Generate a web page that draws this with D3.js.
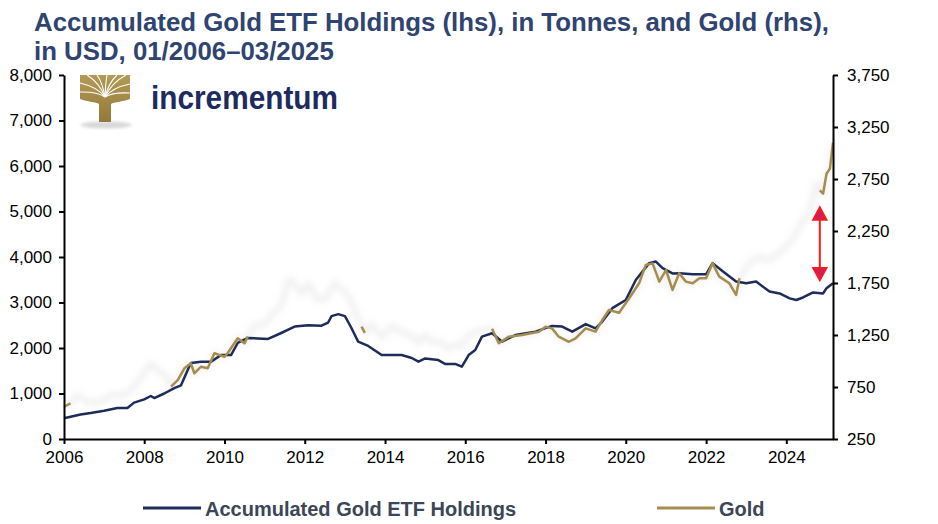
<!DOCTYPE html>
<html>
<head>
<meta charset="utf-8">
<script src="https://cdn.jsdelivr.net/npm/d3@7"></script>
<style>
  body { margin: 0; background: #fff; }
  svg { display: block; font-family: "Liberation Sans", Arial, sans-serif; }
</style>
</head>
<body>
<div id="chart"></div>
<script>
// accumulated gold ETF holdings, tonnes (lhs)
const etfDates = ["2006-01","2006-06","2006-09","2007-01","2007-05","2007-08","2007-10","2008-01","2008-03","2008-04","2008-07","2008-10","2008-12","2009-02","2009-03","2009-06","2009-09","2009-12","2010-03","2010-05","2010-08","2010-11","2011-02","2011-06","2011-10","2012-02","2012-06","2012-08","2012-09","2012-11","2013-01","2013-03","2013-05","2013-08","2013-12","2014-06","2014-09","2014-11","2015-01","2015-05","2015-07","2015-10","2015-12","2016-02","2016-04","2016-06","2016-09","2016-12","2017-04","2017-10","2018-03","2018-06","2018-09","2019-01","2019-04","2019-06","2019-09","2020-01","2020-04","2020-08","2020-10","2020-12","2021-03","2021-05","2021-09","2022-01","2022-03","2022-06","2022-10","2023-01","2023-04","2023-08","2023-11","2024-02","2024-04","2024-06","2024-09","2024-12","2025-01","2025-03"];
const etfValues = [455,540,570,620,680,680,800,870,945,900,1000,1120,1180,1520,1670,1700,1700,1845,1845,2110,2220,2210,2200,2330,2470,2500,2490,2560,2700,2745,2700,2440,2140,2045,1845,1845,1780,1700,1770,1735,1650,1650,1590,1845,1955,2250,2325,2140,2285,2360,2485,2470,2360,2525,2430,2580,2875,3055,3495,3865,3900,3755,3640,3645,3620,3620,3865,3685,3460,3425,3460,3240,3200,3090,3055,3110,3220,3200,3315,3425];

// gold price, USD (rhs)
const goldDates = ["2006-01","2006-03","2006-05","2006-07","2006-10","2007-01","2007-04","2007-07","2007-10","2008-01","2008-03","2008-06","2008-08","2008-09","2008-11","2009-01","2009-03","2009-04","2009-06","2009-08","2009-10","2010-01","2010-02","2010-05","2010-07","2010-08","2010-10","2011-01","2011-04","2011-06","2011-08","2011-09","2011-12","2012-02","2012-05","2012-07","2012-10","2012-12","2013-02","2013-04","2013-06","2013-07","2013-09","2013-12","2014-03","2014-06","2014-09","2014-11","2015-01","2015-03","2015-06","2015-08","2015-10","2015-12","2016-02","2016-04","2016-07","2016-09","2016-11","2017-02","2017-06","2017-11","2018-01","2018-03","2018-05","2018-08","2018-10","2019-01","2019-04","2019-06","2019-08","2019-11","2020-02","2020-05","2020-07","2020-09","2020-11","2021-01","2021-03","2021-05","2021-07","2021-09","2021-11","2022-01","2022-03","2022-05","2022-08","2022-10","2022-11","2023-02","2023-05","2023-08","2023-12","2024-03","2024-05","2024-08","2024-10","2024-11","2024-12","2025-01","2025-02","2025-03"];
const goldValues = [560,593,675,630,590,630,680,665,755,890,970,890,840,753,817,930,978,882,945,930,1074,1041,1080,1218,1170,1234,1340,1355,1475,1530,1755,1780,1650,1740,1590,1590,1750,1690,1630,1480,1330,1270,1350,1225,1335,1280,1240,1175,1250,1180,1180,1115,1160,1137,1250,1280,1298,1310,1170,1234,1250,1282,1330,1314,1234,1185,1218,1314,1282,1394,1490,1464,1603,1747,1923,1939,1763,1875,1683,1843,1763,1747,1795,1795,1939,1811,1747,1635,1795,1950,2000,1970,2067,2180,2290,2450,2700,2640,2610,2800,2850,3100];

// parts of the gold line drawn in full colour (rest is washed out)
const goldShown = [["2006-01","2006-03"],["2008-09","2010-08"],["2013-06","2013-07"],["2016-09","2022-11"],["2024-11","2025-03"]];

const leftTicks = [0,1000,2000,3000,4000,5000,6000,7000,8000];
const rightTicks = [250,750,1250,1750,2250,2750,3250,3750];
const yearTicks = [2006,2008,2010,2012,2014,2016,2018,2020,2022,2024];

// red double arrow (in tonnes, lhs)
const gapArrow = { date: "2024-11", from: 3480, to: 5100 };

const titleLines = ["Accumulated Gold ETF Holdings (lhs), in Tonnes, and Gold (rhs),", "in USD, 01/2006\u201303/2025"];
const legendItems = [
  { label: "Accumulated Gold ETF Holdings", color: "#1e2c5a", x: 143 },
  { label: "Gold", color: "#a58d4e", x: 657 }
];

const width = 938, height = 524;
const margin = { top: 75, right: 105, bottom: 85, left: 64 };
const parse = d3.timeParse("%Y-%m");
const navy = "#1e2c5a", gold = "#a58d4e";

const svg = d3.select("#chart").append("svg")
  .attr("width", width)
  .attr("height", height);

const defs = svg.append("defs");
defs.append("filter").attr("id", "wash")
  .attr("x", "-20%").attr("y", "-20%").attr("width", "140%").attr("height", "140%")
  .append("feGaussianBlur").attr("stdDeviation", 3);
defs.append("filter").attr("id", "soft")
  .append("feGaussianBlur").attr("stdDeviation", 1.5);
const grad = defs.append("linearGradient").attr("id", "treeGold")
  .attr("x1", 0).attr("y1", 0).attr("x2", 0).attr("y2", 1);
grad.append("stop").attr("offset", "0%").attr("stop-color", "#b39a55");
grad.append("stop").attr("offset", "100%").attr("stop-color", "#94793a");

const x = d3.scaleTime()
  .domain([parse("2006-01"), parse("2025-03")])
  .range([margin.left, width - margin.right]);
const yL = d3.scaleLinear().domain([0, 8000]).range([height - margin.bottom, margin.top]);
const yR = d3.scaleLinear().domain([250, 3750]).range([height - margin.bottom, margin.top]);

const etf = etfDates.map((d, i) => ({ date: parse(d), value: etfValues[i] }));
const goldData = goldDates.map((d, i) => ({ date: parse(d), value: goldValues[i] }));

// title
svg.append("g").selectAll("text").data(titleLines).enter().append("text")
  .attr("x", 34)
  .attr("y", (d, i) => 31 + i * 29)
  .attr("font-size", "25.8px")
  .attr("font-weight", "bold")
  .attr("fill", "#2f4470")
  .text(d => d);

// logo
const logo = svg.append("g").attr("transform", "translate(80,75)");
logo.append("ellipse").attr("cx", 26).attr("cy", 50).attr("rx", 26).attr("ry", 3.5)
  .attr("fill", "#d8d8d8").attr("filter", "url(#soft)");
logo.append("path")
  .attr("d", "M0,0 L50,0 L50,24 C42,27 34,27 31,29 L31,47 L19,47 L19,29 C16,27 8,27 0,24 Z")
  .attr("fill", "url(#treeGold)");
const branchEnds = [[0,8],[0,17],[7,0],[17,0],[27,0],[37,0],[46,0],[50,9],[50,18]];
logo.selectAll("path.branch").data(branchEnds).enter().append("path")
  .attr("class", "branch")
  .attr("d", d => `M25,22 Q${25 + (d[0] - 25) * 0.3},${8 + d[1] * 0.5} ${d[0]},${d[1]}`)
  .attr("fill", "none")
  .attr("stroke", "#fff")
  .attr("stroke-width", 1.1);
svg.append("text")
  .attr("x", 151).attr("y", 109)
  .attr("font-size", "33px")
  .attr("font-weight", "bold")
  .attr("textLength", 187)
  .attr("lengthAdjust", "spacingAndGlyphs")
  .attr("fill", "#1d2b5e")
  .text("incrementum");

// lines
const lineL = d3.line().x(d => x(d.date)).y(d => yL(d.value));
const lineR = d3.line().x(d => x(d.date)).y(d => yR(d.value));

svg.append("path")
  .datum(goldData)
  .attr("fill", "none")
  .attr("stroke", "#a8a8a8")
  .attr("stroke-width", 5)
  .attr("stroke-opacity", 0.2)
  .attr("filter", "url(#wash)")
  .attr("d", lineR);

svg.append("path")
  .datum(etf)
  .attr("fill", "none")
  .attr("stroke", navy)
  .attr("stroke-width", 2.5)
  .attr("stroke-linejoin", "round")
  .attr("d", lineL);

goldShown.forEach(([a, b]) => {
  const seg = goldData.filter(d => d.date >= parse(a) && d.date <= parse(b));
  svg.append("path")
    .datum(seg)
    .attr("fill", "none")
    .attr("stroke", gold)
    .attr("stroke-width", 2.5)
    .attr("stroke-linejoin", "round")
    .attr("d", lineR);
});

// red arrow
const ax = x(parse(gapArrow.date));
const aTop = yL(gapArrow.to), aBot = yL(gapArrow.from);
svg.append("line")
  .attr("x1", ax).attr("x2", ax)
  .attr("y1", aTop + 10).attr("y2", aBot - 10)
  .attr("stroke", "#ff1a1a").attr("stroke-width", 2);
svg.append("path")
  .attr("d", `M${ax},${aTop} L${ax + 7},${aTop + 13} L${ax - 7},${aTop + 13} Z`)
  .attr("fill", "#d21f4f").attr("stroke", "#ff1a1a").attr("stroke-width", 1.5);
svg.append("path")
  .attr("d", `M${ax},${aBot} L${ax + 7},${aBot - 13} L${ax - 7},${aBot - 13} Z`)
  .attr("fill", "#d21f4f").attr("stroke", "#ff1a1a").attr("stroke-width", 1.5);

// axes
function styleAxis(g) {
  g.selectAll("path.domain").attr("stroke", "#000").attr("stroke-width", 2);
  g.selectAll(".tick line").attr("stroke", "#000").attr("stroke-width", 2);
  g.selectAll(".tick text").attr("fill", "#000").attr("font-size", "17px")
    .attr("font-family", "\"Liberation Sans\", Arial, sans-serif");
}

svg.append("g")
  .attr("transform", `translate(${margin.left},0)`)
  .call(d3.axisLeft(yL).tickValues(leftTicks).tickFormat(d3.format(",")).tickSize(5).tickSizeOuter(0).tickPadding(7))
  .call(styleAxis);

svg.append("g")
  .attr("transform", `translate(${width - margin.right},0)`)
  .call(d3.axisRight(yR).tickValues(rightTicks).tickFormat(d3.format(",")).tickSize(5).tickSizeOuter(0).tickPadding(9))
  .call(styleAxis);

svg.append("g")
  .attr("transform", `translate(0,${height - margin.bottom})`)
  .call(d3.axisBottom(x).tickValues(yearTicks.map(y => new Date(y, 0, 1))).tickFormat(d3.timeFormat("%Y")).tickSize(5).tickSizeOuter(0).tickPadding(7))
  .call(styleAxis);

// legend
const legend = svg.append("g").selectAll("g").data(legendItems).enter().append("g")
  .attr("transform", d => `translate(${d.x},508)`);
legend.append("line")
  .attr("x1", 0).attr("x2", 58)
  .attr("stroke", d => d.color).attr("stroke-width", 3);
legend.append("text")
  .attr("x", 62).attr("y", 8)
  .attr("font-size", "20px")
  .attr("font-weight", "bold")
  .attr("fill", "#3b4657")
  .text(d => d.label);
</script>
</body>
</html>
